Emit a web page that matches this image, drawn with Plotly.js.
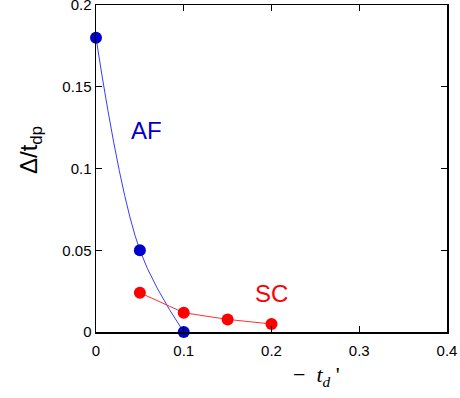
<!DOCTYPE html>
<html>
<head>
<meta charset="utf-8">
<script src="https://cdn.plot.ly/plotly-3.0.1.min.js"></script>
<style>html,body{margin:0;padding:0;background:#fff;}#chart{width:460px;height:398px;}</style>
</head>
<body>
<div id="chart"></div>
<script>
var afX = [0, 0.05, 0.1];
var afY = [0.18, 0.05, 0.0];
var scX = [0.05, 0.1, 0.15, 0.2];
var scY = [0.024, 0.0118, 0.0077, 0.0049];
var xTicks = [0, 0.1, 0.2, 0.3, 0.4];
var xTickText = ['0', '0.1', '0.2', '0.3', '0.4'];
var yTicks = [0, 0.05, 0.1, 0.15, 0.2];
var yTickText = ['0', '0.05', '0.1', '0.15', '0.2'];

var traces = [
  {x: afX, y: afY, mode: 'lines+markers', name: 'AF',
   line: {color: '#3a3aff', width: 1, shape: 'spline', smoothing: 1},
   marker: {color: '#0000cc', size: 12}, cliponaxis: false},
  {x: scX, y: scY, mode: 'lines+markers', name: 'SC',
   line: {color: '#ff3030', width: 1},
   marker: {color: '#ff0000', size: 12}, cliponaxis: false}
];

var axisCommon = {
  showgrid: false, zeroline: false, showline: true, linecolor: '#000', linewidth: 1.5,
  mirror: 'ticks', ticks: 'inside', ticklen: 6, tickcolor: '#000', tickwidth: 1,
  ticklabeloverflow: 'allow',
  tickfont: {family: 'Liberation Sans, Arial, sans-serif', size: 15, color: '#000'}
};

var plotW = 460 - 96 - 13, plotH = 398 - 5 - 66;

var layout = {
  width: 460, height: 398,
  margin: {l: 96, r: 13, t: 5, b: 66},
  paper_bgcolor: '#fff', plot_bgcolor: '#fff',
  showlegend: false,
  xaxis: Object.assign({}, axisCommon, {range: [0, 0.4], tickvals: xTicks, ticktext: xTickText,
    ticklabelstandoff: 4}),
  yaxis: Object.assign({}, axisCommon, {range: [0, 0.2], tickvals: yTicks, ticktext: yTickText}),
  annotations: [
    {x: 0.057, y: 0.123, xref: 'x', yref: 'y', text: 'AF', showarrow: false,
     xanchor: 'center', yanchor: 'middle',
     font: {family: 'Liberation Sans, Arial, sans-serif', size: 24, color: '#0000cc'}},
    {x: 0.2, y: 0.0238, xref: 'x', yref: 'y', text: 'SC', showarrow: false,
     xanchor: 'center', yanchor: 'middle',
     font: {family: 'Liberation Sans, Arial, sans-serif', size: 24, color: '#ff0000'}},
    {xref: 'paper', yref: 'paper', x: (30 - 96) / plotW, y: (332 - 150) / plotH,
     text: 'Δ/t<sub>dp</sub>', textangle: -90, showarrow: false, xanchor: 'center', yanchor: 'middle',
     font: {family: 'Liberation Sans, Arial, sans-serif', size: 24, color: '#000'}},
    {xref: 'paper', yref: 'paper', x: (316 - 96) / plotW, y: -(376 - 332) / plotH,
     text: '−  <i>t</i><sub><i>d</i></sub> \'', showarrow: false, xanchor: 'center', yanchor: 'middle',
     font: {family: 'Liberation Serif, Times New Roman, serif', size: 22, color: '#000'}}
  ]
};

Plotly.newPlot('chart', traces, layout, {displayModeBar: false, staticPlot: true});
</script>
</body>
</html>
